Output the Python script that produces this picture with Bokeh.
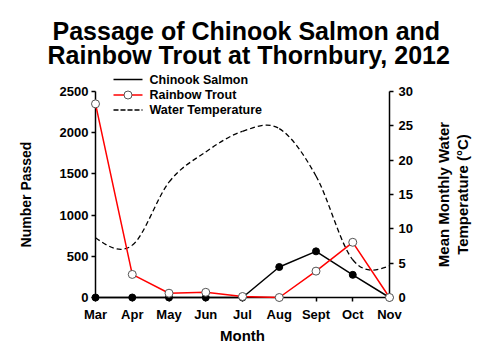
import math
from bokeh.plotting import figure
from bokeh.models import Range1d, LinearAxis, FixedTicker
from bokeh.core.properties import value
from bokeh.embed import file_html
from bokeh.resources import INLINE

# ---- data ----
months = ["Mar", "Apr", "May", "Jun", "Jul", "Aug", "Sept", "Oct", "Nov"]
chinook = [0, 0, 0, 0, 0, 370, 560, 275, 0]
rainbow = [2350, 280, 52, 63, 12, 0, 320, 670, 0]
water_temp = [8.7, 7.6, 16.8, 21.2, 24.2, 24.6, 17.7, 5.5, 4.6]
count_ticks = [0, 500, 1000, 1500, 2000, 2500]
temp_ticks = [0, 5, 10, 15, 20, 25, 30]
legend_labels = ["Chinook Salmon", "Rainbow Trout", "Water Temperature"]
title_lines = ["Passage of Chinook Salmon and", "Rainbow Trout at Thornbury, 2012"]
right_label_lines = ["Mean Monthly Water", "Temperature (\u00b0C)"]

FONT = "Liberation Sans"
x = list(range(len(months)))

# ---- layout in pixels ----
W, H = 500, 354
F_LEFT, F_RIGHT, F_TOP, F_BOTTOM = 95, 389, 91, 297

p = figure(width=W, height=H, title=None,
           x_range=Range1d(0, len(months) - 1),
           y_range=Range1d(count_ticks[0], count_ticks[-1]),
           output_backend="svg", toolbar_location=None,
           min_border_left=F_LEFT, min_border_right=W - F_RIGHT,
           min_border_top=F_TOP, min_border_bottom=H - F_BOTTOM)
p.background_fill_color = "white"
p.border_fill_color = "white"
p.outline_line_color = None
p.xgrid.visible = False
p.ygrid.visible = False

p.extra_y_ranges = {"temp": Range1d(temp_ticks[0], temp_ticks[-1])}
right_axis = LinearAxis(y_range_name="temp")
p.add_layout(right_axis, "right")

p.xaxis.ticker = FixedTicker(ticks=x)
p.xaxis.major_label_overrides = {i: m for i, m in enumerate(months)}
p.yaxis[0].ticker = FixedTicker(ticks=count_ticks)
right_axis.ticker = FixedTicker(ticks=temp_ticks)

p.xaxis.axis_label = "Month"
p.yaxis[0].axis_label = "Number Passed"

for ax in [p.xaxis[0], p.yaxis[0], right_axis]:
    ax.axis_line_color = "black"
    ax.axis_line_width = 1.5
    ax.major_tick_line_color = "black"
    ax.major_tick_line_width = 1.5
    ax.major_tick_in = 0
    ax.major_tick_out = 4
    ax.minor_tick_line_color = None
    ax.major_label_text_font = FONT
    ax.major_label_text_font_style = "bold"
    ax.major_label_text_font_size = "13px"
    ax.major_label_text_color = "black"
    ax.axis_label_text_font = FONT
    ax.axis_label_text_font_style = "bold"
    ax.axis_label_text_color = "black"

p.xaxis[0].major_label_standoff = 5
p.xaxis[0].axis_label_standoff = 2
p.xaxis[0].axis_label_text_font_size = "15px"
p.yaxis[0].major_label_standoff = 3
p.yaxis[0].axis_label_standoff = 23
p.yaxis[0].axis_label_text_font_size = "14px"
right_axis.major_label_standoff = 5

# ---- smoothed water temperature curve (Bezier segments through the monthly values) ----
n = len(water_temp)
tang = [0.0] * n
for i in range(1, n - 1):
    tang[i] = (water_temp[i + 1] - water_temp[i - 1]) / 2.0
x0 = x[:-1]
x1 = x[1:]
y0 = water_temp[:-1]
y1 = water_temp[1:]
cx0 = [xi + 1.0 / 3 for xi in x0]
cx1 = [xi - 1.0 / 3 for xi in x1]
cy0 = [water_temp[i] + tang[i] / 3.0 for i in range(n - 1)]
cy1 = [water_temp[i + 1] - tang[i + 1] / 3.0 for i in range(n - 1)]
cy0[0] = (water_temp[0] + cy1[0]) / 2.0
cy1[-1] = (water_temp[-1] + cy0[-1]) / 2.0

p.bezier(x0=x0, y0=y0, x1=x1, y1=y1, cx0=cx0, cy0=cy0, cx1=cx1, cy1=cy1,
         line_color="black", line_width=1.3, line_dash="5 3",
         y_range_name="temp", level="overlay")

p.line(x, chinook, line_color="black", line_width=1.5, level="overlay")
p.scatter(x, chinook, size=7, fill_color="black", line_color="black", level="overlay")
p.line(x, rainbow, line_color="#ff0000", line_width=1.5, level="overlay")
p.scatter(x, rainbow, size=8, fill_color="white", line_color="#555555",
          line_width=1, level="overlay")

# ---- helpers: pixel position -> data position (for texts placed outside the frame) ----
px_per_x = (F_RIGHT - F_LEFT) / (len(months) - 1)
px_per_y = (F_BOTTOM - F_TOP) / (count_ticks[-1] - count_ticks[0])


def dx(px):
    return (px - F_LEFT) / px_per_x


def dy(py):
    return (F_BOTTOM - py) / px_per_y


# ---- title (two lines) ----
p.text(x=[dx(52), dx(47)], y=[dy(30), dy(54.5)], text=title_lines,
       text_font=value(FONT), text_font_style="bold", text_font_size="25px",
       text_baseline="alphabetic", text_align="left", text_color="black",
       level="overlay")

# ---- right axis title (two lines, reading bottom to top) ----
p.text(x=[dx(443), dx(462)], y=[dy(194), dy(194)], text=right_label_lines,
       angle=math.pi / 2, text_font=value(FONT), text_font_style="bold",
       text_font_size="15px", text_baseline="middle", text_align="center",
       text_color="black", level="overlay")

# ---- legend (drawn as overlay glyphs so that it may reach above the axes' top) ----
row_py = [79, 94.5, 109.5]
gx0, gx1, mx, tx = dx(113), dx(142), dx(127.5), dx(149)
p.line([gx0, gx1], [dy(row_py[0])] * 2, line_color="black", line_width=1.5, level="overlay")
p.scatter([mx], [dy(row_py[0])], size=7, fill_color="black", line_color="black", level="overlay")
p.line([gx0, gx1], [dy(row_py[1])] * 2, line_color="#ff0000", line_width=1.5, level="overlay")
p.scatter([mx], [dy(row_py[1])], size=8, fill_color="white", line_color="#555555",
          line_width=1, level="overlay")
p.line([gx0, gx1], [dy(row_py[2])] * 2, line_color="black", line_width=1.3,
       line_dash="5 2", level="overlay")
p.text(x=[tx] * 3, y=[dy(v) for v in row_py], text=legend_labels,
       text_font=value(FONT), text_font_style="bold", text_font_size="12.5px",
       text_baseline="middle", text_align="left", text_color="black", level="overlay")

open("out.html", "w").write(file_html(p, INLINE))
